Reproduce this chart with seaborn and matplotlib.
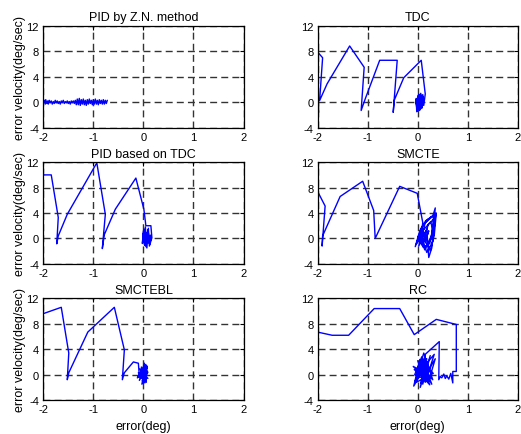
import numpy as np
import pandas as pd
import seaborn as sns
import matplotlib.pyplot as plt

# phase trajectories: error (deg) vs error velocity (deg/sec)
zn_x = [-1.98, -1.96, -1.95, -1.93, -1.91, -1.90, -1.88, -1.86, -1.84, -1.82, -1.80, -1.78, -1.76,
        -1.74, -1.72, -1.70, -1.68, -1.66, -1.64, -1.62, -1.60, -1.58, -1.56, -1.54, -1.52, -1.50,
        -1.48, -1.46, -1.44, -1.42, -1.40, -1.38, -1.36, -1.34, -1.32, -1.30, -1.28, -1.26, -1.24,
        -1.22, -1.20, -1.18, -1.16, -1.14, -1.12, -1.10, -1.08, -1.06, -1.04, -1.02, -1.00, -0.98,
        -0.96, -0.94, -0.92, -0.90, -0.88, -0.86, -0.84, -0.82, -0.80, -0.78, -0.76, -0.74, -0.72]
zn_y = [0.3, -0.3, 0.4, -0.2, 0.2, -0.3, 0.3, -0.1, 0.2, -0.3, 0.1, -0.2, 0.3, -0.1, 0.2, -0.2,
        0.1, -0.3, 0.2, -0.1, 0.3, -0.2, 0.1, -0.1, 0.2, -0.2, 0.1, -0.3, 0.2, -0.1, 0.2, -0.2,
        0.3, -0.4, 0.5, -0.4, 0.6, -0.5, 0.4, -0.3, 0.5, -0.4, 0.3, -0.5, 0.4, -0.3, 0.5, -0.2,
        0.3, -0.4, 0.4, -0.3, 0.5, -0.3, 0.3, -0.4, 0.4, -0.2, 0.3, -0.3, 0.4, -0.3, 0.3, -0.2, 0.3]

tdc_x = [-1.98, -2.0, -1.90, -1.96, -1.81, -1.36, -1.07, -1.13, -1.05, -0.76, -0.41, -0.49, -0.47,
         -0.28, 0.07, 0.15, 0.12, 0.10, 0.08, 0.06, 0.03, 0.01, -0.02, -0.03, 0.0, 0.02, 0.05, 0.07,
         0.09, 0.11, 0.08, 0.04, 0.0, -0.04, -0.02, 0.01, 0.04, 0.06, 0.09, 0.10, 0.07, 0.03, 0.0,
         -0.03, 0.0, 0.03, 0.06, 0.05, 0.04]
tdc_y = [-1.6, 7.9, 7.0, 0.26, 2.9, 8.85, 5.5, -1.3, 0.5, 6.6, 6.6, -1.6, 0.3,
         3.85, 6.6, 1.3, -0.5, 1.2, -1.0, 1.4, -1.3, 1.0, -1.5, 0.6, -1.0, 1.3, -1.2, 1.1,
         -0.8, 0.9, -0.6, 1.2, -1.4, 0.4, -0.9, 1.1, -1.1, 0.8, -0.4, 0.6, -0.7, 0.9, -0.8,
         0.2, -0.4, 0.5, -0.3, 0.2, 0.0]

ptdc_x = [-2.0, -1.84, -1.70, -1.73, -1.70, -1.52, -0.93, -0.76, -0.82, -0.78, -0.56, -0.15, 0.01,
          0.05, 0.15, 0.17, 0.12, 0.10, 0.07, 0.04, 0.02, 0.0, -0.02, 0.01, 0.05, 0.09, 0.13, 0.16,
          0.12, 0.08, 0.03, -0.01, 0.02, 0.06, 0.10, 0.14, 0.11, 0.07, 0.04, 0.05]
ptdc_y = [10.0, 10.0, 3.3, -0.85, 0.4, 3.8, 11.9, 3.8, -1.6, 0.6, 4.6, 9.5, 4.6,
          2.0, 2.0, 0.1, -1.2, 1.6, -1.5, 1.8, -1.0, 1.2, -0.8, 1.5, -1.3, 1.4, -0.9, 0.6,
          -0.4, 1.0, -1.1, 0.7, -0.5, 0.9, -0.7, 0.4, -0.2, 0.5, -0.3, 0.1]

smcte_x = [-2.0, -1.85, -1.91, -1.90, -1.55, -1.10, -0.88, -0.85, -0.36, -0.01, 0.10,
           0.05, 0.15, 0.30, 0.35, 0.28, 0.22, 0.18, 0.02, 0.10, 0.25, 0.37, 0.33, 0.25, 0.12,
           -0.03, 0.08, 0.20, 0.36, 0.30, 0.18, 0.06, -0.05, 0.04, 0.16, 0.32, 0.27, 0.14, 0.03,
           0.09, 0.21, 0.34, 0.24, 0.11, 0.0, 0.13, 0.26, 0.31, 0.19, 0.07, 0.15, 0.22, 0.17, 0.12]
smcte_y = [7.4, 5.1, -1.2, 0.4, 6.6, 9.0, 4.4, 0.0, 8.2, 7.1, 2.5,
           -0.8, 2.5, 3.5, 4.8, -1.5, -3.0, 1.5, -1.2, 2.0, 3.3, 4.0, 0.5, -2.0, 1.0,
           -0.9, 1.8, 3.0, 3.8, -0.5, -2.2, 0.8, -1.3, 1.2, 2.8, 3.6, 0.0, -1.8, 0.5,
           -1.0, 2.2, 3.2, -0.8, -1.4, 0.2, 1.5, 2.6, 1.0, -1.0, 0.3, -0.5, 1.2, 0.0, 0.4]

smctebl_x = [-2.0, -1.64, -1.49, -1.52, -1.49, -1.11, -0.58, -0.38, -0.42, -0.38, -0.20, -0.10,
             -0.08, -0.12, 0.05, -0.03, 0.08, -0.08, 0.02, 0.06, -0.05, 0.09, -0.10, 0.03, 0.07,
             -0.02, 0.04, -0.06, 0.08, 0.0, -0.04, 0.06, -0.09, 0.02, 0.05, -0.03, 0.04, 0.0,
             -0.11, 0.07, -0.01, 0.09, -0.07, 0.03, -0.04, 0.06, 0.01]
smctebl_y = [9.6, 10.6, 3.4, -0.8, 0.3, 6.7, 10.6, 3.9, -0.8, 0.3, 2.0, 1.8,
             -0.3, -0.5, 1.6, -1.5, 1.2, -0.9, 1.8, -1.2, 0.8, -0.6, 0.3, -1.3, 1.4,
             -1.0, 1.0, -0.4, 0.6, -1.1, 1.2, -0.8, 0.0, 0.9, -0.5, 0.5, -0.3, 0.2,
             -0.2, 1.1, -1.4, 0.4, 0.9, -0.7, 0.6, -0.1, 0.3]

rc_x = [-2.0, -1.71, -1.38, -0.87, -0.36, -0.07, 0.37, 0.77, 0.77, 0.70, 0.70, 0.66, 0.62, 0.58,
        0.55, 0.52, 0.48, 0.45, 0.42, 0.43, 0.15, 0.10, 0.25, 0.05, 0.18, -0.05, 0.12, 0.30, 0.02,
        -0.08, 0.20, 0.33, 0.15, 0.0, 0.28, 0.08, -0.06, 0.22, 0.35, 0.06, 0.16, -0.02, 0.26, 0.12,
        0.03, 0.19, 0.09, -0.09, 0.24, 0.04, 0.31, -0.03, 0.13, 0.21, -0.07, 0.17, 0.07, 0.14]
rc_y = [6.7, 6.2, 6.2, 10.4, 10.4, 6.3, 8.7, 7.9, 0.5, 0.5, -1.3, 0.2, -0.7, -0.2,
        -0.6, 0.1, -0.5, -0.3, -0.8, 5.2, 3.2, -1.5, 3.0, -2.0, 2.5, -1.0, 3.4, -0.8, 1.5,
        -1.8, 2.0, 3.2, -1.2, 2.2, -1.5, 2.8, 0.0, -1.0, 2.5, -1.3, 1.8, -0.5, 1.2, -0.9,
        1.0, -0.3, 0.5, 1.3, -1.6, 2.4, 0.2, -1.2, 2.6, -0.4, 0.8, -0.9, 0.4, 0.0]

titles = ["PID by Z.N. method", "TDC", "PID based on TDC", "SMCTE", "SMCTEBL", "RC"]
series = [(zn_x, zn_y), (tdc_x, tdc_y), (ptdc_x, ptdc_y),
          (smcte_x, smcte_y), (smctebl_x, smctebl_y), (rc_x, rc_y)]

sns.set_style("white")
plt.rcParams['font.family'] = ['Liberation Sans', 'DejaVu Sans']
plt.rcParams['axes.unicode_minus'] = False
plt.rcParams['text.color'] = 'black'
plt.rcParams['axes.labelcolor'] = 'black'

fig, axes = plt.subplots(3, 2, figsize=(5.21, 4.35), dpi=100)
fig.subplots_adjust(left=0.083, right=0.994, top=0.938, bottom=0.078, wspace=0.37, hspace=0.34)

for i, ax in enumerate(axes.flat):
    x, y = series[i]
    sns.lineplot(x=x, y=y, sort=False, estimator=None, color='blue', lw=1, ax=ax)
    ax.set_xlim(-2, 2)
    ax.set_ylim(-4, 12)
    ax.set_xticks([-2, -1, 0, 1, 2])
    ax.set_yticks([-4, 0, 4, 8, 12])
    ax.grid(True, color='0.2', ls=(0, (5, 3)), lw=1)
    ax.tick_params(direction='in', length=3, top=True, right=True, labelsize=8, pad=3,
                   colors='black')
    for s in ax.spines.values():
        s.set_color('black')
        s.set_linewidth(0.9)
    ax.set_title(titles[i], fontsize=9, pad=4, color='black')
    if i % 2 == 0:
        ax.set_ylabel("error velocity(deg/sec)", fontsize=9)
        ax.yaxis.set_label_coords(-0.088, 0.5)
    if i >= 4:
        ax.set_xlabel("error(deg)", fontsize=9, labelpad=4)

fig.savefig("out.png", dpi=100)
